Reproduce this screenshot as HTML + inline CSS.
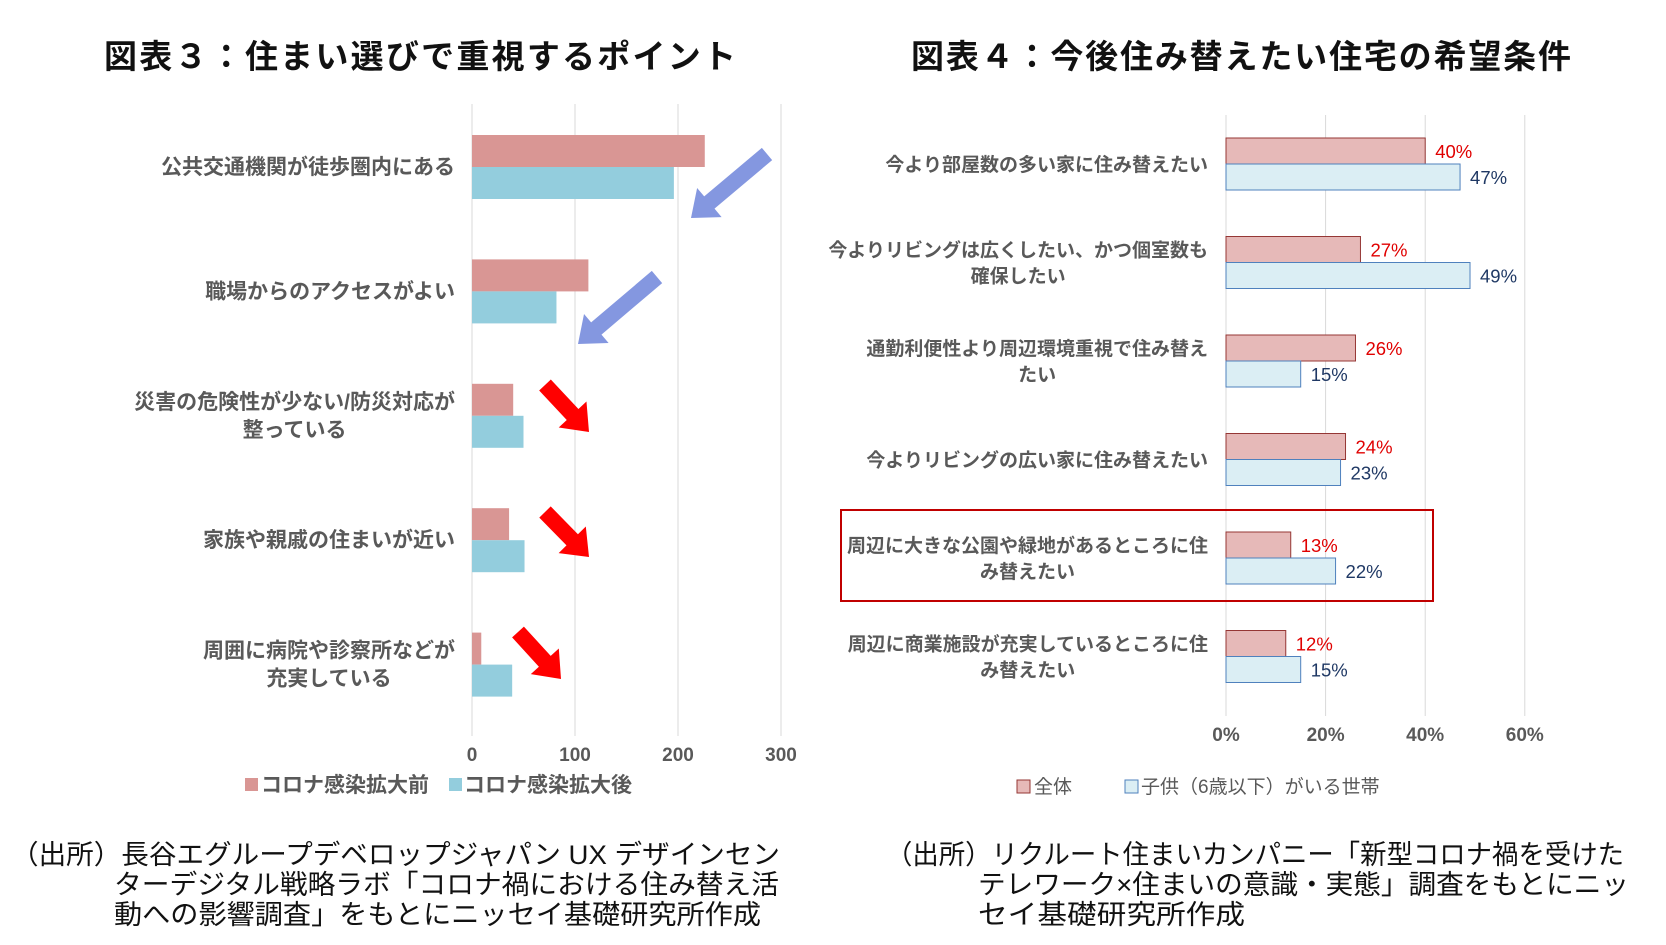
<!DOCTYPE html>
<html><head><meta charset="utf-8">
<style>
html,body{margin:0;padding:0;background:#fff;}
svg{display:block;font-family:"Liberation Sans","Noto Sans CJK JP",sans-serif;}
.cat{font-size:21px;font-weight:bold;fill:#595959;}
.tick{font-size:19px;font-weight:bold;fill:#595959;}
.title{font-size:33px;font-weight:bold;fill:#111;}
.src{font-size:27px;fill:#111;}
</style></head>
<body>
<svg id="svg" width="1666" height="945" viewBox="0 0 1666 945" xmlns="http://www.w3.org/2000/svg">
<text class="title" x="104" y="68" textLength="632" lengthAdjust="spacing">図表３：住まい選びで重視するポイント</text>
<text class="title" x="911" y="68" textLength="660" lengthAdjust="spacing">図表４：今後住み替えたい住宅の希望条件</text>
<g id="c3"></g>
<g id="c4"></g>
<g>
<rect x="245" y="778" width="13" height="13" fill="#d99694"/>
<text class="cat" x="261" y="792">コロナ感染拡大前</text>
<rect x="449" y="778" width="13" height="13" fill="#93cddd"/>
<text class="cat" x="464" y="792">コロナ感染拡大後</text>
</g>
<g>
<rect x="1017" y="780" width="13" height="13" fill="#e6b9b8" stroke="#953735"/>
<text x="1034" y="793" style="font-size:19px;fill:#595959">全体</text>
<rect x="1125" y="780" width="13" height="13" fill="#dbeef4" stroke="#4f81bd"/>
<text x="1141" y="793" style="font-size:19px;fill:#595959">子供（6歳以下）がいる世帯</text>
</g>
<rect x="841" y="510" width="592" height="91" fill="none" stroke="#c00000" stroke-width="2"/>
<g>
<text class="src" x="11" y="864" textLength="769" lengthAdjust="spacingAndGlyphs">（出所）長谷エグループデベロップジャパン UX デザインセン</text>
<text class="src" x="114" y="894" textLength="665" lengthAdjust="spacingAndGlyphs">ターデジタル戦略ラボ「コロナ禍における住み替え活</text>
<text class="src" x="114" y="924" textLength="647" lengthAdjust="spacingAndGlyphs">動への影響調査」をもとにニッセイ基礎研究所作成</text>
</g>
<g>
<text class="src" x="886" y="864" textLength="738" lengthAdjust="spacingAndGlyphs">（出所）リクルート住まいカンパニー「新型コロナ禍を受けた</text>
<text class="src" x="978" y="894" textLength="651" lengthAdjust="spacingAndGlyphs">テレワーク×住まいの意識・実態」調査をもとにニッ</text>
<text class="src" x="978" y="924" textLength="267" lengthAdjust="spacingAndGlyphs">セイ基礎研究所作成</text>
</g>
</svg>
<script>
const c3Cats=[["公共交通機関が徒歩圏内にある"],["職場からのアクセスがよい"],["災害の危険性が少ない/防災対応が","整っている"],["家族や親戚の住まいが近い"],["周囲に病院や診察所などが","充実している"]];
const c3Before=[226,113,40,36,9];
const c3After=[196,82,50,51,39];
const c3Ticks=[0,100,200,300];
const c4Cats=[["今より部屋数の多い家に住み替えたい"],["今よりリビングは広くしたい、かつ個室数も","確保したい"],["通勤利便性より周辺環境重視で住み替え","たい"],["今よりリビングの広い家に住み替えたい"],["周辺に大きな公園や緑地があるところに住","み替えたい"],["周辺に商業施設が充実しているところに住","み替えたい"]];
const c4All=[40,27,26,24,13,12];
const c4Child=[47,49,15,23,22,15];
const c4Ticks=[0,20,40,60];
const NS="http://www.w3.org/2000/svg";
function mk(p,t,a,txt){const e=document.createElementNS(NS,t);for(const k in a)e.setAttribute(k,a[k]);if(txt!==undefined)e.textContent=txt;p.appendChild(e);return e;}
function catLabel(g,lines,xEnd,cy,lh,cls,style){
  const n=lines.length;let w=0;
  lines.forEach((ln,j)=>{
    const y=cy+7+(j-(n-1)/2)*lh;
    const a={x:xEnd,y:y,'text-anchor':'end',class:cls};if(style)a.style=style;
    const t=mk(g,'text',a,ln);
    
    
    if(j===0)w=t.getComputedTextLength();
    else{t.setAttribute('text-anchor','middle');t.setAttribute('x',xEnd-w/2);}
  });
}
// chart 3
(function(){
const g=document.getElementById('c3');
const x=v=>472+v*1.03, top=104, bot=736, step=124.4;
c3Ticks.forEach(t=>{const l=mk(g,'line',{x1:x(t),x2:x(t),y1:top,y2:bot,stroke:'#d9d9d9','stroke-width':1});


const tx=mk(g,'text',{x:x(t),y:761,'text-anchor':'middle',class:'tick'},t);

});
c3Cats.forEach((c,i)=>{const y0=135+i*step;
const b1=mk(g,'rect',{x:x(0),y:y0,width:x(c3Before[i])-x(0),height:32,fill:'#d99694'});


const b2=mk(g,'rect',{x:x(0),y:y0+32,width:x(c3After[i])-x(0),height:32,fill:'#93cddd'});


catLabel(g,c,455,y0+32,28,'cat');
});
const arrows=[[767,154,691,218,'#8497e0'],[657,277,578,344,'#8497e0'],[545,385,589,432,'#ff0000'],[545,512,589,557,'#ff0000'],[518,632,561,679,'#ff0000']];
arrows.forEach(a=>{const [x1,y1,x2,y2,c]=a;const dx=x2-x1,dy=y2-y1,L=Math.hypot(dx,dy),ux=dx/L,uy=dy/L,px=-uy,py=ux;
const hw=8,hh=19,hl=24;const bx=x2-ux*hl,by=y2-uy*hl;
const pts=[[x1+px*hw,y1+py*hw],[bx+px*hw,by+py*hw],[bx+px*hh,by+py*hh],[x2,y2],[bx-px*hh,by-py*hh],[bx-px*hw,by-py*hw],[x1-px*hw,y1-py*hw]];
const p=mk(g,'polygon',{points:pts.map(q=>q.join(',')).join(' '),fill:c});

});
})();
// chart 4
(function(){
const g=document.getElementById('c4');
const x=v=>1226+v*4.98, top=115, bot=716, step=98.5;
c4Ticks.forEach(t=>{const l=mk(g,'line',{x1:x(t),x2:x(t),y1:top,y2:bot,stroke:'#d9d9d9','stroke-width':1});


const tx=mk(g,'text',{x:x(t),y:741,'text-anchor':'middle',class:'tick'},t+'%');

});
c4Cats.forEach((c,i)=>{const y0=138+i*step;
const b1=mk(g,'rect',{x:x(0),y:y0,width:x(c4All[i])-x(0),height:26,fill:'#e6b9b8',stroke:'#953735'});


const b2=mk(g,'rect',{x:x(0),y:y0+26,width:x(c4Child[i])-x(0),height:26,fill:'#dbeef4',stroke:'#4f81bd'});


const l1=mk(g,'text',{x:x(c4All[i])+10,y:y0+20,style:'font-size:18.5px;fill:#e00000'},c4All[i]+'%');


const l2=mk(g,'text',{x:x(c4Child[i])+10,y:y0+46,style:'font-size:18.5px;fill:#1f3864'},c4Child[i]+'%');


catLabel(g,c,1208,y0+26,26,'cat','font-size:19px');
});
})();
</script>
</body></html>
